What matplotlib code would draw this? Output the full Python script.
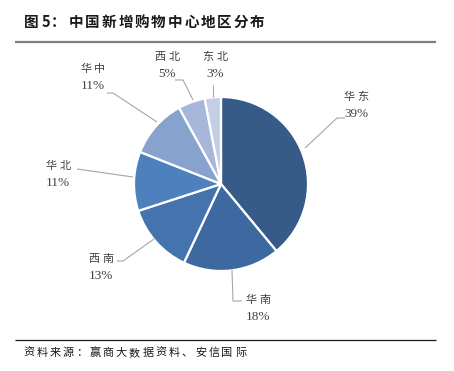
import matplotlib
matplotlib.use("Agg")
import matplotlib.pyplot as plt
import numpy as np

plt.rcParams['font.family'] = ['Noto Sans CJK SC', 'DejaVu Sans']

regions = ['华东', '华南', '西南', '华北', '华中', '西北', '东北']
shares = [39, 18, 13, 11, 11, 5, 3]
colors = ['#365B88', '#3E69A0', '#4473AD', '#4E80BE', '#88A2CE', '#A7B7D9', '#C4CFE6']

title_prefix = ['图', '5', '：']
title_body = '中国新增购物中心地区分布'
source = '资料来源：赢商大数据资料、安信国际'

W, H = 454, 371
fig = plt.figure(figsize=(W / 100, H / 100), dpi=100)
ax = fig.add_axes([0, 0, 1, 1])

cx, cy, r = 221, H - 184, 87
wedges, _ = ax.pie(shares, colors=colors, startangle=90, counterclock=False,
                   center=(cx, cy), radius=r, frame=True,
                   wedgeprops=dict(edgecolor='white', linewidth=1.6))
ax.set_xlim(0, W)
ax.set_ylim(0, H)
ax.set_aspect('equal')
ax.axis('off')


def spaced(x0, y, s, pitch, **kw):
    """Draw string s char by char, char centres starting at x0 (pixel coords from top)."""
    for i, ch in enumerate(s):
        ax.text(x0 + i * pitch, H - y, ch, ha='center', va='center', **kw)


# label layout (pixel coords from top): text centre, leader elbow points
layout = {
    '华东': dict(txt=(356, 97), pts=[(305, 148), (337, 118), (345, 118)]),
    '华南': dict(txt=(258, 300), pts=[(232, 270), (233, 301), (242, 301)]),
    '西南': dict(txt=(101, 259), pts=[(154, 239), (123, 261), (117, 261)]),
    '华北': dict(txt=(58, 166), pts=[(133, 177), (77, 169)]),
    '华中': dict(txt=(93, 69), pts=[(157, 122), (113, 93), (107, 93)]),
    '西北': dict(txt=(167, 57), pts=[(193, 100), (183, 80), (175, 80)]),
    '东北': dict(txt=(215, 57), pts=[(213, 97), (213, 85)]),
}
lab_font = ['Noto Sans CJK SC', 'DejaVu Sans']
num_font = ['Liberation Serif', 'DejaVu Serif']
for name, val in zip(regions, shares):
    L = layout[name]
    xs = [p[0] for p in L['pts']]
    ys = [H - p[1] for p in L['pts']]
    ax.plot(xs, ys, color='#A6A6A6', lw=0.8, solid_capstyle='butt')
    tx, ty = L['txt']
    spaced(tx - 7, ty, name, 14, fontsize=8, color='#404040', family=lab_font)
    ax.text(tx, H - ty - 17, f'{val}%', ha='center', va='center',
            fontsize=9.5, color='#404040', family=num_font)

# title
tkw = dict(fontsize=10.5, fontweight='bold', color='#1a1a1a',
           family=['Noto Sans CJK SC', 'DejaVu Sans'])
ax.text(31, H - 22, title_prefix[0], ha='center', va='center', **tkw)
ax.text(46, H - 22, title_prefix[1], ha='center', va='center', **tkw)
ax.text(51, H - 22, title_prefix[2], ha='left', va='center', **tkw)
spaced(76, 22, title_body, 16.5, **tkw)

# rules
ax.plot([15, 436], [H - 42, H - 42], color='#7f7f7f', lw=1.6, solid_capstyle='butt')
ax.plot([15, 436], [H - 340, H - 340], color='#1a1a1a', lw=0.9, solid_capstyle='butt')

# source
spaced(29, 353, source, 13.2, fontsize=8, color='#1a1a1a',
       family=['Noto Sans CJK SC', 'DejaVu Sans'])

fig.savefig('out.png', dpi=100)
